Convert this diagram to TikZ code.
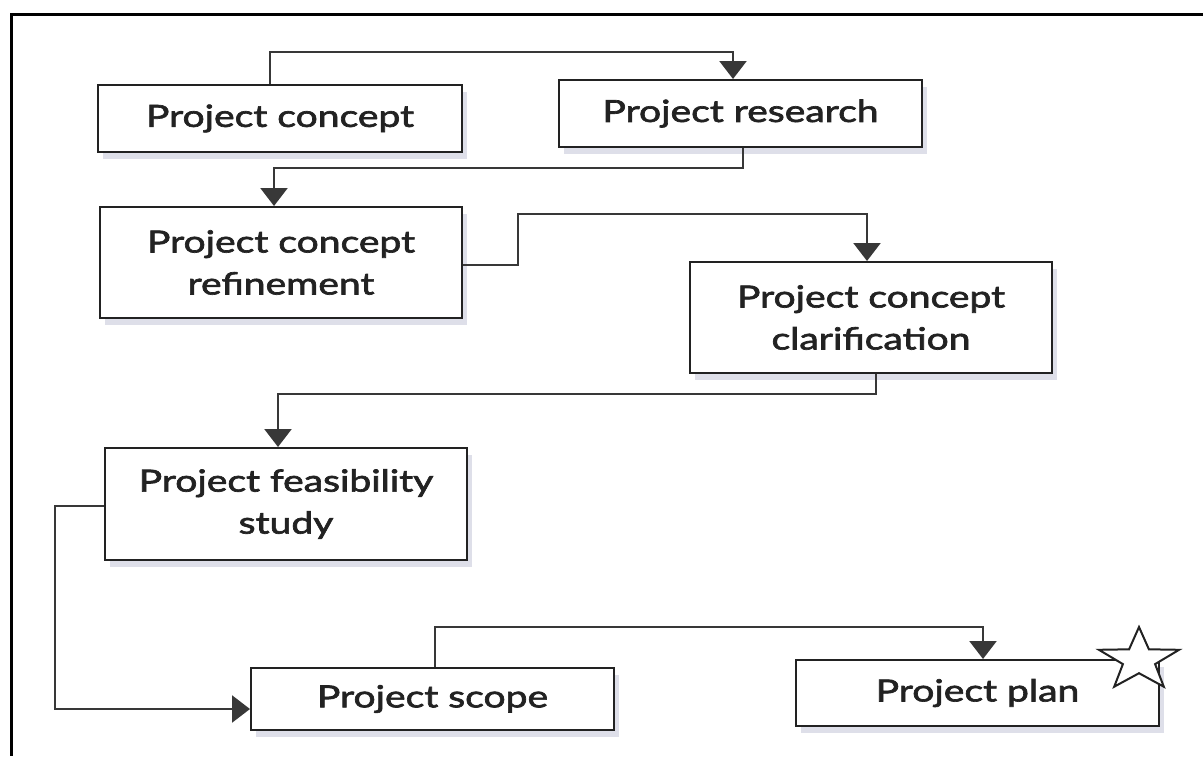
\documentclass[tikz,border=0pt]{standalone}
\usepackage{fontspec}
\setmainfont[FakeStretch=1.28,FakeBold=2.2]{Lato}
\usetikzlibrary{arrows.meta,shadows}
\definecolor{shade}{RGB}{222,223,233}
\definecolor{ink}{RGB}{34,34,34}
\begin{document}
\begin{tikzpicture}[x=1pt,y=-1pt,
  stepbox/.style={draw=ink, line width=2pt, fill=white, align=center, inner sep=0pt,
    text=ink, font=\fontsize{30.5}{42}\selectfont,
    drop shadow={shadow xshift=5pt, shadow yshift=-7pt, fill=shade, opacity=1}},
  conn/.style={draw=ink!90, line width=2.4pt, -{Triangle[width=27pt,length=18pt]}}]
\useasboundingbox (0,0) rectangle (1203,756);
% outer frame (top and left only)
\draw[line width=3pt, black] (1203,14) -- (11,14) -- (11,756);
% boxes
\node[stepbox, minimum width=364pt, minimum height=67pt] (con) at (280,118.5) {Project concept};
\node[stepbox, minimum width=363pt, minimum height=67pt] (res) at (740.5,113.5) {Project research};
\node[stepbox, minimum width=362pt, minimum height=111pt] (ref) at (281,262.5) {Project concept\\refinement};
\node[stepbox, minimum width=362pt, minimum height=111pt] (cla) at (871,317.5) {Project concept\\clarification};
\node[stepbox, minimum width=362pt, minimum height=112pt] (fea) at (286,504) {Project feasibility\\study};
\node[stepbox, minimum width=363pt, minimum height=62pt] (sco) at (432.5,699) {Project scope};
\node[stepbox, minimum width=363pt, minimum height=66pt] (pla) at (977.5,693) {Project plan};
% connectors
\draw[conn] ([xshift=-10pt]con.north) -- ++(0,-32) -| ([xshift=-7.5pt]res.north);
\draw[conn] ([xshift=2.5pt]res.south) -- ++(0,20) -| ([xshift=-7pt]ref.north);
\draw[conn] ([yshift=-2.5pt]ref.east) -- ++(55,0) -- ++(0,-51) -| ([xshift=-4pt]cla.north);
\draw[conn] ([xshift=5pt]cla.south) -- ++(0,20) -| ([xshift=-8pt]fea.north);
\draw[conn] ([yshift=-2pt]fea.west) -- ++(-49,0) |- ([yshift=-10pt]sco.west);
\draw[conn] ([xshift=2.5pt]sco.north) -- ++(0,-40) -| ([xshift=5.5pt]pla.north);
% star
\draw[line width=2pt, draw=ink, fill=white, line join=miter]
  (1139,627) -- (1148.9,649.3) -- (1179.1,649.8) -- (1155.1,664.1) -- (1163.8,686.7)
  -- (1139,673.2) -- (1114.2,686.7) -- (1122.9,664.1) -- (1098.9,649.8) -- (1129.1,649.3) -- cycle;
\end{tikzpicture}
\end{document}
